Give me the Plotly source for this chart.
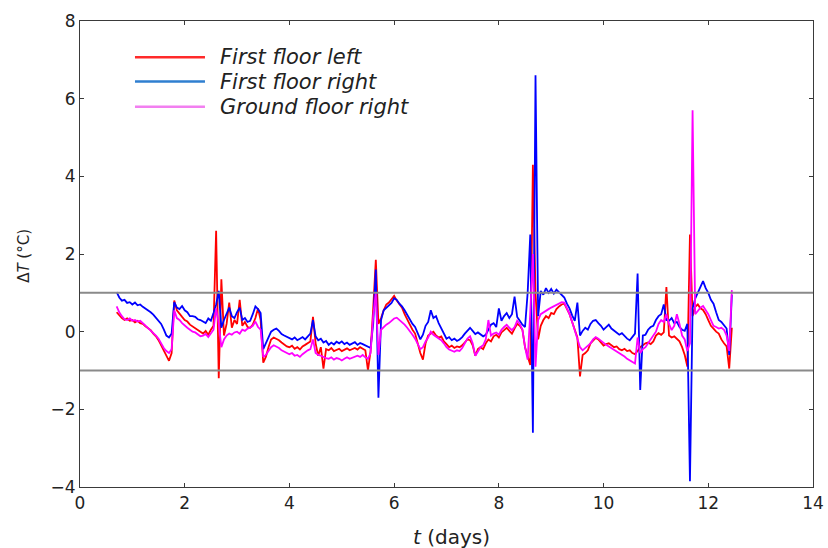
import plotly.graph_objects as go

# time axis (days), sampled every 0.05 day
t_days = [
    0.70, 0.75, 0.80, 0.85, 0.90, 0.95, 1.00, 1.05, 1.10, 1.15, 1.20, 1.25, 1.30, 1.35, 1.40, 1.45, 1.50, 1.55, 1.60, 1.65,
    1.70, 1.75, 1.80, 1.85, 1.90, 1.95, 2.00, 2.05, 2.10, 2.15, 2.20, 2.25, 2.30, 2.35, 2.40, 2.45, 2.50, 2.55, 2.60, 2.65,
    2.70, 2.75, 2.80, 2.85, 2.90, 2.95, 3.00, 3.05, 3.10, 3.15, 3.20, 3.25, 3.30, 3.35, 3.40, 3.45, 3.50, 3.55, 3.60, 3.65,
    3.70, 3.75, 3.80, 3.85, 3.90, 3.95, 4.00, 4.05, 4.10, 4.15, 4.20, 4.25, 4.30, 4.35, 4.40, 4.45, 4.50, 4.55, 4.60, 4.65,
    4.70, 4.75, 4.80, 4.85, 4.90, 4.95, 5.00, 5.05, 5.10, 5.15, 5.20, 5.25, 5.30, 5.35, 5.40, 5.45, 5.50, 5.55, 5.60, 5.65,
    5.70, 5.75, 5.80, 5.85, 5.90, 5.95, 6.00, 6.05, 6.10, 6.15, 6.20, 6.25, 6.30, 6.35, 6.40, 6.45, 6.50, 6.55, 6.60, 6.65,
    6.70, 6.75, 6.80, 6.85, 6.90, 6.95, 7.00, 7.05, 7.10, 7.15, 7.20, 7.25, 7.30, 7.35, 7.40, 7.45, 7.50, 7.55, 7.60, 7.65,
    7.70, 7.75, 7.80, 7.85, 7.90, 7.95, 8.00, 8.05, 8.10, 8.15, 8.20, 8.25, 8.30, 8.35, 8.40, 8.45, 8.50, 8.55, 8.60, 8.65,
    8.70, 8.75, 8.80, 8.85, 8.90, 8.95, 9.00, 9.05, 9.10, 9.15, 9.20, 9.25, 9.30, 9.35, 9.40, 9.45, 9.50, 9.55, 9.60, 9.65,
    9.70, 9.75, 9.80, 9.85, 9.90, 9.95, 10.00, 10.05, 10.10, 10.15, 10.20, 10.25, 10.30, 10.35, 10.40, 10.45, 10.50, 10.55, 10.60, 10.65,
    10.70, 10.75, 10.80, 10.85, 10.90, 10.95, 11.00, 11.05, 11.10, 11.15, 11.20, 11.25, 11.30, 11.35, 11.40, 11.45, 11.50, 11.55, 11.60, 11.65,
    11.70, 11.75, 11.80, 11.85, 11.90, 11.95, 12.00, 12.05, 12.10, 12.15, 12.20, 12.25, 12.30, 12.35, 12.40, 12.45,
]

first_floor_left = [
    0.50, 0.42, 0.35, 0.30, 0.34, 0.28, 0.30, 0.24, 0.28, 0.22, 0.20, 0.14, 0.08, 0.04, -0.05, -0.12, -0.22, -0.35, -0.50, -0.62,
    -0.75, -0.55, 0.80, 0.55, 0.45, 0.38, 0.30, 0.26, 0.18, 0.13, 0.10, 0.04, -0.02, -0.05, 0.02, -0.08, 0.05, 0.15, 2.60, -1.20,
    1.35, -0.10, 0.20, 0.75, 0.10, 0.30, 0.20, 0.82, 0.15, 0.25, 0.12, 0.10, 0.18, 0.35, 0.60, 0.30, -0.80, -0.65, -0.40, -0.20,
    -0.15, -0.18, -0.22, -0.28, -0.34, -0.38, -0.40, -0.36, -0.44, -0.40, -0.46, -0.38, -0.34, -0.30, -0.25, 0.38, -0.30, -0.62, -0.40, -0.95,
    -0.45, -0.48, -0.42, -0.50, -0.46, -0.44, -0.50, -0.47, -0.43, -0.48, -0.45, -0.42, -0.46, -0.40, -0.44, -0.48, -1.00, -0.50, 0.60, 1.85,
    0.20, 0.35, 0.55, 0.70, 0.75, 0.85, 0.92, 0.80, 0.72, 0.62, 0.45, 0.30, 0.18, 0.05, -0.05, -0.30, -0.55, -0.72, -0.30, -0.10,
    -0.05, 0.00, -0.10, -0.15, -0.12, -0.25, -0.32, -0.40, -0.36, -0.42, -0.38, -0.40, -0.35, -0.28, -0.20, -0.22, -0.35, -0.62, -0.45, -0.40,
    -0.45, -0.30, -0.20, -0.25, -0.12, -0.08, -0.15, -0.02, 0.05, 0.10, 0.02, -0.05, 0.08, 0.20, 0.15, 0.05, -0.40, -0.60, -0.86, 4.30,
    1.00, -0.20, 0.15, 0.30, 0.40, 0.35, 0.48, 0.45, 0.58, 0.65, 0.70, 0.72, 0.60, 0.45, 0.25, 0.05, -0.15, -1.15, -0.60, -0.55,
    -0.48, -0.30, -0.22, -0.16, -0.20, -0.28, -0.36, -0.32, -0.30, -0.35, -0.40, -0.38, -0.45, -0.48, -0.44, -0.50, -0.48, -0.55, -0.58, -0.50,
    -0.40, -0.35, -0.30, -0.28, -0.32, -0.25, -0.10, -0.04, -0.08, -0.02, 1.15, -0.10, -0.15, -0.12, -0.20, -0.25, -0.40, -0.60, -0.90, 2.50,
    0.40, 0.64, 0.70, 0.60, 0.56, 0.45, 0.30, 0.15, 0.08, 0.00, -0.05, -0.20, -0.30, -0.38, -0.95, 0.10,
]

first_floor_right = [
    1.02, 0.88, 0.80, 0.82, 0.74, 0.76, 0.70, 0.75, 0.68, 0.70, 0.64, 0.60, 0.56, 0.50, 0.44, 0.36, 0.28, 0.20, 0.06, -0.10,
    -0.15, -0.05, 0.76, 0.62, 0.58, 0.66, 0.55, 0.50, 0.40, 0.40, 0.38, 0.32, 0.30, 0.26, 0.22, 0.34, 0.28, 0.48, 0.70, 1.05,
    0.10, 0.30, 0.45, 0.62, 0.40, 0.35, 0.50, 0.62, 0.30, 0.35, 0.25, 0.28, 0.45, 0.65, 0.58, 0.48, -0.45, -0.30, -0.15, 0.00,
    0.05, 0.08, 0.02, -0.06, -0.10, -0.14, -0.16, -0.20, -0.15, -0.22, -0.18, -0.14, -0.20, -0.12, -0.05, 0.30, -0.12, -0.22, -0.18, -0.28,
    -0.24, -0.34, -0.28, -0.33, -0.26, -0.30, -0.25, -0.32, -0.28, -0.34, -0.30, -0.27, -0.34, -0.29, -0.32, -0.35, -0.38, -0.42, 0.20, 1.60,
    -1.70, 0.30, 0.55, 0.62, 0.68, 0.74, 0.86, 0.82, 0.72, 0.65, 0.55, 0.42, 0.30, 0.20, 0.12, -0.05, -0.20, -0.08, 0.15, 0.25,
    0.55, 0.35, 0.40, 0.22, 0.10, -0.05, -0.18, -0.14, -0.22, -0.18, -0.24, -0.20, -0.14, -0.05, 0.04, 0.10, 0.02, -0.06, -0.02, -0.08,
    -0.12, -0.08, 0.05, 0.18, 0.22, 0.12, 0.60, 0.28, 0.40, 0.48, 0.35, 0.45, 0.90, 0.38, 0.28, 0.18, 0.12, 1.00, 2.50, -2.60,
    6.60, 0.40, 1.05, 0.95, 1.12, 1.00, 1.10, 0.98, 1.08, 1.02, 0.96, 0.88, 0.72, 0.60, 0.42, 0.28, 0.75, -0.10, 0.02, 0.10,
    0.05, 0.20, 0.28, 0.30, 0.22, 0.15, 0.05, 0.12, 0.18, 0.08, 0.02, -0.02, -0.08, -0.04, -0.12, -0.18, -0.22, -0.12, -0.05, 1.50,
    -1.50, -0.10, -0.08, 0.05, 0.12, 0.15, 0.30, 0.40, 0.45, 0.70, 0.30, 0.28, 0.35, 0.22, 0.25, 0.12, 0.05, 0.02, 0.20, -3.85,
    0.60, 0.85, 1.00, 1.15, 1.30, 1.12, 1.00, 0.82, 0.72, 0.50, 0.30, 0.25, 0.15, 0.08, -0.60, 0.95,
]

ground_floor_right = [
    0.65, 0.50, 0.40, 0.32, 0.30, 0.34, 0.28, 0.30, 0.26, 0.28, 0.22, 0.16, 0.10, 0.04, -0.02, -0.10, -0.18, -0.30, -0.42, -0.50,
    -0.55, -0.45, 0.55, 0.35, 0.30, 0.22, 0.15, 0.10, 0.05, 0.00, -0.02, -0.08, -0.12, -0.10, -0.06, -0.14, -0.04, 0.05, 0.60, 0.20,
    -0.40, -0.20, -0.10, -0.05, -0.08, -0.02, 0.00, -0.05, 0.05, 0.02, 0.08, 0.10, 0.15, 0.26, 0.12, 0.05, -0.65, -0.60, -0.50, -0.40,
    -0.35, -0.38, -0.42, -0.48, -0.52, -0.55, -0.58, -0.55, -0.62, -0.60, -0.65, -0.58, -0.52, -0.48, -0.45, -0.20, -0.55, -0.60, -0.62, -0.66,
    -0.68, -0.70, -0.66, -0.72, -0.68, -0.70, -0.74, -0.70, -0.66, -0.70, -0.68, -0.64, -0.62, -0.65, -0.60, -0.66, -0.70, -0.55, 0.40, 1.00,
    -0.60, 0.05, 0.12, 0.18, 0.22, 0.28, 0.34, 0.36, 0.30, 0.25, 0.18, 0.10, 0.02, -0.08, -0.18, -0.30, -0.45, -0.40, -0.25, -0.15,
    0.00, -0.08, -0.12, -0.18, -0.22, -0.30, -0.40, -0.46, -0.48, -0.52, -0.48, -0.50, -0.42, -0.30, -0.18, -0.12, -0.30, -0.62, -0.50, -0.40,
    -0.35, -0.20, 0.30, -0.10, -0.05, -0.02, -0.08, 0.05, 0.12, 0.18, 0.10, 0.04, 0.12, 0.28, 0.20, 0.05, -0.40, -0.72, 0.50, 2.00,
    -0.90, 0.30, 0.45, 0.50, 0.55, 0.58, 0.62, 0.66, 0.70, 0.72, 0.76, 0.75, 0.60, 0.45, 0.25, 0.05, -0.15, -0.40, -0.48, -0.42,
    -0.35, -0.30, -0.20, -0.14, -0.18, -0.24, -0.28, -0.34, -0.38, -0.42, -0.46, -0.50, -0.56, -0.60, -0.64, -0.70, -0.74, -0.78, -0.82, -0.15,
    -0.55, -0.45, -0.40, -0.30, -0.20, -0.12, 0.00, 0.20, 0.30, 0.25, 0.45, 0.20, 0.04, 0.15, 0.45, 0.20, -0.10, -0.20, -0.50, -0.30,
    5.70, 0.45, 0.55, 0.62, 0.66, 0.55, 0.45, 0.30, 0.15, 0.12, 0.08, 0.10, 0.05, -0.10, -0.50, 1.07,
]

series_names = ["First floor left", "First floor right", "Ground floor right"]
series_colors = ["#ff0000", "#0000ff", "#ff00ff"]
legend_colors = ["#ff2a2a", "#2f7fd0", "#f27ff0"]
band_levels = [1.0, -1.0]
x_ticks = [0, 2, 4, 6, 8, 10, 12, 14]
y_ticks = [-4, -2, 0, 2, 4, 6, 8]

assert len(first_floor_left) == len(t_days)
assert len(first_floor_right) == len(t_days)
assert len(ground_floor_right) == len(t_days)

FONT = "DejaVu Sans"
AXIS_COLOR = "#3a3a3a"

fig = go.Figure()
for name, vals, col in zip(series_names, [first_floor_left, first_floor_right, ground_floor_right], series_colors):
    fig.add_trace(go.Scatter(x=t_days, y=vals, mode="lines", name=name,
                             line=dict(color=col, width=1.8), showlegend=False))

shapes = []
for lv in band_levels:
    shapes.append(dict(type="line", xref="x", yref="y", x0=x_ticks[0], x1=x_ticks[-1], y0=lv, y1=lv,
                       line=dict(color="#8a8a8a", width=2), layer="above"))

# manual legend (line samples + italic labels)
leg_y = [0.922, 0.870, 0.816]
annotations = []
for name, col, yy in zip(series_names, legend_colors, leg_y):
    shapes.append(dict(type="line", xref="paper", yref="paper", x0=0.075, x1=0.1705, y0=yy, y1=yy,
                       line=dict(color=col, width=2.5)))
    annotations.append(dict(xref="paper", yref="paper", x=0.188, y=yy, xanchor="left", yanchor="middle",
                            text=f"<i>{name}</i>", showarrow=False,
                            font=dict(family=FONT, size=21, color="#222222")))

annotations.append(dict(xref="paper", yref="paper", x=0.5075, y=-0.107, xanchor="center", yanchor="middle",
                        text="<i>t</i> (days)", showarrow=False,
                        font=dict(family=FONT, size=20, color="#222222")))
annotations.append(dict(xref="paper", yref="paper", x=-0.0764, y=0.496, xanchor="center", yanchor="middle",
                        text="Δ<i>T</i> (°C)", textangle=-90, showarrow=False,
                        font=dict(family=FONT, size=15, color="#222222")))

axis_common = dict(showline=True, linecolor=AXIS_COLOR, linewidth=1.2, mirror="ticks",
                   ticks="inside", ticklen=4, tickcolor=AXIS_COLOR, tickwidth=1,
                   showgrid=False, zeroline=False,
                   tickfont=dict(family=FONT, size=17, color="#222222"))

fig.update_layout(
    width=828, height=548,
    margin=dict(l=80, r=15, t=21, b=61, autoexpand=False),
    paper_bgcolor="white", plot_bgcolor="white",
    xaxis=dict(range=[x_ticks[0], x_ticks[-1]], tickvals=x_ticks, **axis_common),
    yaxis=dict(range=[y_ticks[0], y_ticks[-1]], tickvals=y_ticks, **axis_common),
    shapes=shapes, annotations=annotations,
    showlegend=False,
)

fig.write_html("out.html", config={"displayModeBar": False},
               post_script="document.body.style.margin='0';document.body.style.padding='0';")
